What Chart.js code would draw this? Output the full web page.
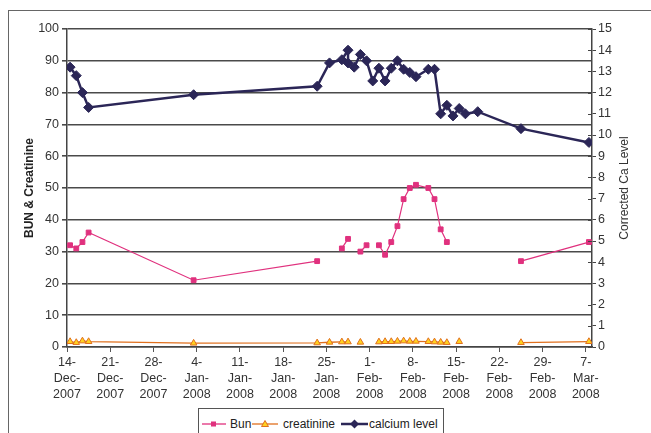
<!DOCTYPE html>
<html>
<head>
<meta charset="utf-8">
<script src="https://cdn.jsdelivr.net/npm/chart.js@4.4.1/dist/chart.umd.min.js"></script>
<style>
body { margin: 0; background: #fff; font-family: "Liberation Sans", Arial, sans-serif; }
#frame { position: absolute; left: 8px; top: 10px; width: 700px; height: 500px; border: 1px solid #666; }
#chart { position: absolute; left: 0; top: 0; }
#legend { position: absolute; left: 198px; top: 408px; width: 244px; height: 30px; border: 1px solid #555; background: #fff; font-size: 12px; color: #222; }
#legend .item { position: absolute; top: 8px; height: 14px; line-height: 14px; white-space: nowrap; }
#legend svg { position: absolute; top: 8px; }
</style>
</head>
<body>
<div id="frame"></div>
<canvas id="chart" width="651" height="433"></canvas>
<div id="legend">
  <svg style="left:3px" width="24" height="14"><line x1="0" y1="7" x2="24" y2="7" stroke="#e0317e" stroke-width="1.3"/><rect x="9" y="4.5" width="5" height="5" fill="#e0317e"/></svg>
  <span class="item" style="left:31px">Bun</span>
  <svg style="left:53px" width="26" height="14"><line x1="0" y1="7" x2="26" y2="7" stroke="#e0701e" stroke-width="1.3"/><polygon points="13,3.5 16.5,9.5 9.5,9.5" fill="#ffd21f" stroke="#e0701e" stroke-width="1"/></svg>
  <span class="item" style="left:84px">creatinine</span>
  <svg style="left:142px" width="27" height="14"><line x1="0" y1="7" x2="27" y2="7" stroke="#2b2657" stroke-width="2.5"/><polygon points="13.5,2.5 18,7 13.5,11.5 9,7" fill="#2b2657"/></svg>
  <span class="item" style="left:170px">calcium level</span>
</div>
<script>
// one row per blood draw, blanks are null so the lines break like in Excel
var dates = [
  "2007-12-14", "2007-12-15", "2007-12-16", "2007-12-17", "2008-01-03",
  "2008-01-23", "2008-01-25", "2008-01-27", "2008-01-28", "2008-01-28",
  "2008-01-29", "2008-01-30", "2008-01-31", "2008-02-01", "2008-02-02",
  "2008-02-03", "2008-02-04", "2008-02-05", "2008-02-06", "2008-02-07",
  "2008-02-08", "2008-02-10", "2008-02-11", "2008-02-12", "2008-02-13",
  "2008-02-14", "2008-02-15", "2008-02-16", "2008-02-18", "2008-02-25",
  "2008-03-07"
];
var bun = [
  32, 31, 33, 36, 21,
  27, null, 31, 34, null,
  null, 30, 32, null, 32,
  29, 33, 38, 46.5, 50,
  51, 50, 46.5, 37, 33,
  null, null, null, null, 27,
  33
];
var creatinine = [
  1.7, 1.4, 1.9, 1.7, 1.2,
  1.3, 1.5, 1.6, 1.6, null,
  null, 1.5, null, null, 1.6,
  1.7, 1.7, 1.8, 1.9, 1.8,
  1.8, 1.7, 1.6, 1.5, 1.4,
  null, 1.7, null, null, 1.4,
  1.7
];
var calcium = [
  13.2, 12.8, 12.0, 11.3, 11.9,
  12.3, 13.4, 13.55, 14.0, 13.4,
  13.2, 13.8, 13.5, 12.55, 13.15,
  12.55, 13.15, 13.5, 13.1, 12.95,
  12.75, 13.1, 13.1, 11.0, 11.4,
  10.9, 11.25, 11.0, 11.1, 10.3,
  9.65
];

var tickDates = [
  "2007-12-14", "2007-12-21", "2007-12-28", "2008-01-04", "2008-01-11", "2008-01-18", "2008-01-25",
  "2008-02-01", "2008-02-08", "2008-02-15", "2008-02-22", "2008-02-29", "2008-03-07"
];
var tickLabels = [
  ["14-", "Dec-", "2007"], ["21-", "Dec-", "2007"], ["28-", "Dec-", "2007"], ["4-", "Jan-", "2008"],
  ["11-", "Jan-", "2008"], ["18-", "Jan-", "2008"], ["25-", "Jan-", "2008"], ["1-", "Feb-", "2008"],
  ["8-", "Feb-", "2008"], ["15-", "Feb-", "2008"], ["22-", "Feb-", "2008"], ["29-", "Feb-", "2008"],
  ["7-", "Mar-", "2008"]
];

var FONT = '"Liberation Sans", Arial, sans-serif';
var start = Date.parse(tickDates[0] + "T00:00:00Z");

// days since the first tick; Excel puts each point in the middle of its day
function dayOf(d, noon) {
  return (Date.parse(d + "T00:00:00Z") - start) / 86400000 + (noon ? 0.5 : 0);
}

function points(values) {
  return dates.map(function (d, i) {
    return { x: dayOf(d, true), y: values[i] };
  });
}

var tickDays = tickDates.map(function (d) { return dayOf(d, false); });

// right axis: title reads bottom to top, tick marks cross the axis line
var rightAxisExtras = {
  id: "rightAxisExtras",
  afterDraw: function (chart) {
    var ctx = chart.ctx;
    var a = chart.chartArea;
    var s = chart.scales.y2;
    ctx.save();
    ctx.strokeStyle = "#444";
    ctx.lineWidth = 1;
    s.ticks.forEach(function (t) {
      var y = Math.round(s.getPixelForValue(t.value)) + 0.5;
      ctx.beginPath();
      ctx.moveTo(s.left - 4, y);
      ctx.lineTo(s.left, y);
      ctx.stroke();
    });
    ctx.translate(s.right - 26, (a.top + a.bottom) / 2);
    ctx.rotate(-Math.PI / 2);
    ctx.font = "12px " + FONT;
    ctx.fillStyle = "#333";
    ctx.textAlign = "center";
    ctx.textBaseline = "middle";
    ctx.fillText("Corrected Ca Level", 0, 0);
    ctx.restore();
  }
};

var ctx = document.getElementById("chart").getContext("2d");
var chart = new Chart(ctx, {
  type: "line",
  data: {
    datasets: [{
      label: "calcium level",
      data: points(calcium),
      yAxisID: "y2",
      order: 0,
      borderColor: "#2b2657",
      backgroundColor: "#2b2657",
      borderWidth: 2.5,
      pointStyle: "rectRot",
      pointRadius: 5,
      pointBorderWidth: 1
    }, {
      label: "Bun",
      data: points(bun),
      yAxisID: "y",
      order: 1,
      borderColor: "#e0317e",
      backgroundColor: "#e0317e",
      borderWidth: 1.2,
      pointStyle: "rect",
      pointRadius: 3.4,
      pointBorderWidth: 1
    }, {
      label: "creatinine",
      data: points(creatinine),
      yAxisID: "y",
      order: 2,
      borderColor: "#e0701e",
      backgroundColor: "#ffd21f",
      borderWidth: 1.3,
      pointStyle: "triangle",
      pointRadius: 3.8,
      pointBorderColor: "#e0701e",
      pointBorderWidth: 1
    }]
  },
  options: {
    responsive: false,
    animation: false,
    spanGaps: false,
    layout: { padding: { top: 29, left: 0, right: 0, bottom: 0 } },
    plugins: {
      legend: { display: false },
      tooltip: { enabled: false }
    },
    scales: {
      x: {
        type: "linear",
        min: 0,
        max: 85,
        afterBuildTicks: function (s) {
          s.ticks = tickDays.map(function (v) { return { value: v }; });
        },
        afterFit: function (s) { s.height = 86; },
        grid: { drawOnChartArea: false, tickLength: 5, color: "#555", lineWidth: 1 },
        border: { color: "#444", width: 1.5 },
        ticks: {
          autoSkip: false,
          maxRotation: 0,
          padding: 3,
          color: "#333",
          font: { family: FONT, size: 12.5, lineHeight: 1.25 },
          callback: function (v, i) { return tickLabels[i]; }
        }
      },
      y: {
        position: "left",
        min: 0,
        max: 100,
        afterFit: function (s) { s.width = 67; },
        grid: { color: "#4a4a4a", lineWidth: 1.6, tickLength: 5 },
        border: { color: "#444", width: 1.5 },
        ticks: {
          stepSize: 10,
          padding: 3,
          color: "#333",
          font: { family: FONT, size: 12.5 }
        },
        title: {
          display: true,
          text: "BUN & Creatinine",
          color: "#222",
          font: { family: FONT, size: 12, weight: "bold" },
          padding: { top: 22, bottom: 0 }
        }
      },
      y2: {
        position: "right",
        min: 0,
        max: 15,
        afterFit: function (s) { s.width = 59; },
        grid: { drawOnChartArea: false, tickLength: 4, color: "#444", lineWidth: 1 },
        border: { color: "#444", width: 1.5 },
        ticks: {
          stepSize: 1,
          padding: 2,
          color: "#333",
          font: { family: FONT, size: 12.5 }
        }
      }
    }
  },
  plugins: [rightAxisExtras]
});
</script>
</body>
</html>
